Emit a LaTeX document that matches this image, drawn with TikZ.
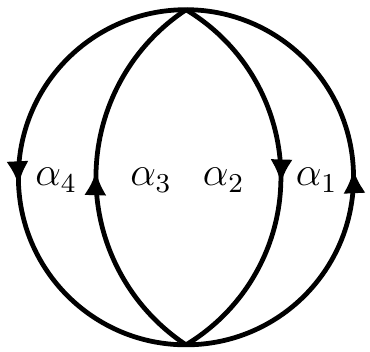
\documentclass[tikz,border=0pt]{standalone}
\usepackage{tikz}
\usetikzlibrary{arrows.meta, decorations.markings, calc}

\begin{document}
\begin{tikzpicture}[
  loop/.style={line width=1.4pt, postaction={decorate},
    decoration={markings, mark=at position 0.515 with {\arrow{Latex[length=7pt,width=6.6pt]}}}},
  lbl/.style={inner sep=0pt, font=\fontsize{11.5}{14}\selectfont},
  >=Latex
]
  \useasboundingbox (-1.92,-1.80) rectangle (1.90,1.83);

  % end points shared by all four curves
  \coordinate (top) at (0,1.73);
  \coordinate (bot) at (0,-1.73);

  % outer circle, two halves
  \draw[loop] (top) arc[start angle=90,  end angle=270, radius=1.73];
  \draw[loop] (bot) arc[start angle=-90, end angle=90,  radius=1.73];

  % inner curves
  \draw[loop] (bot) arc[start angle=236.5, end angle=123.5, radius=2.074];
  \draw[loop] (top) arc[start angle=59.06, end angle=-59.06, radius=2.017];

  % labels
  \node[lbl] at (-1.34,-0.03) (a4) {$\alpha_4$};
  \node[lbl] at (-0.36,-0.03) (a3) {$\alpha_3$};
  \node[lbl] at (0.39,-0.03)  (a2) {$\alpha_2$};
  \node[lbl] at (1.35,-0.03)  (a1) {$\alpha_1$};
\end{tikzpicture}
\end{document}
